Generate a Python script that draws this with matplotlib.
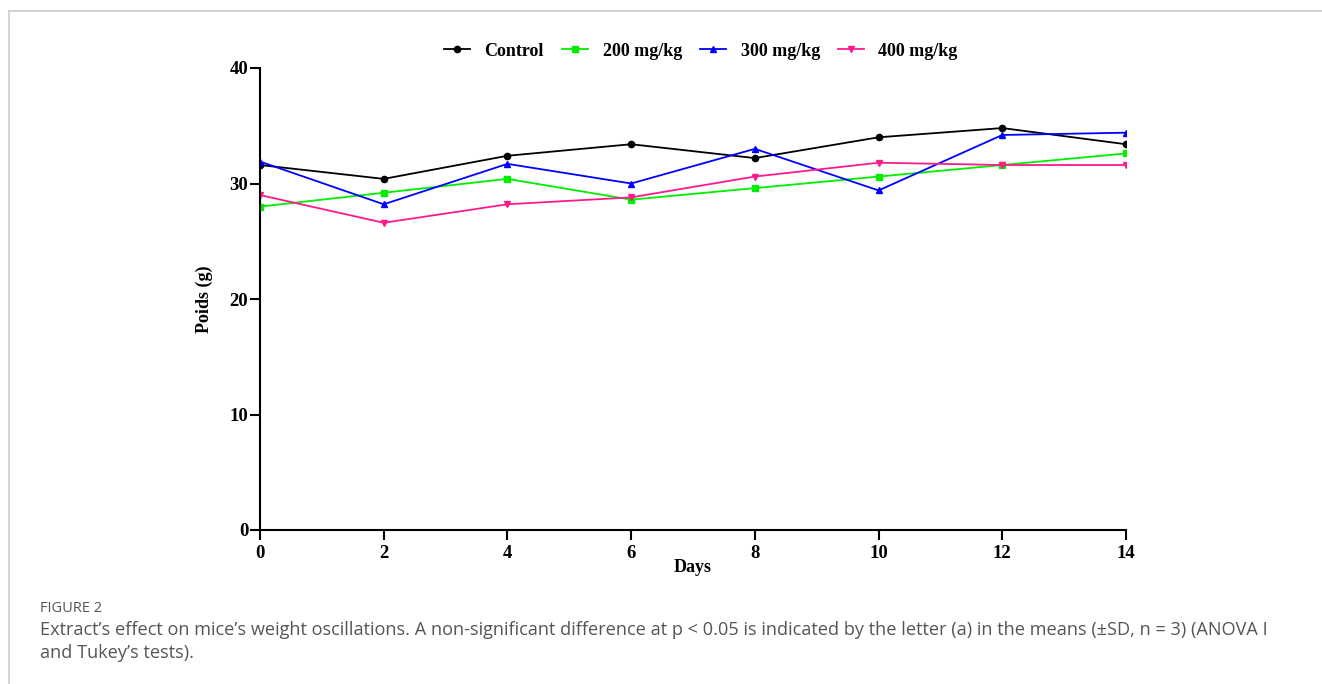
import matplotlib
matplotlib.use("Agg")
from matplotlib import pyplot as plt
from matplotlib.lines import Line2D

days = [0, 2, 4, 6, 8, 10, 12, 14]
control = [31.6, 30.4, 32.4, 33.4, 32.2, 34.0, 34.8, 33.4]
mg200 = [28.0, 29.2, 30.4, 28.6, 29.6, 30.6, 31.6, 32.6]
mg300 = [31.9, 28.2, 31.7, 30.0, 33.0, 29.4, 34.2, 34.4]
mg400 = [29.0, 26.6, 28.2, 28.8, 30.6, 31.8, 31.6, 31.6]
labels = ["Control", "200 mg/kg", "300 mg/kg", "400 mg/kg"]
y_ticks = [0, 10, 20, 30, 40]

serif = ["Liberation Serif", "DejaVu Serif"]

fig = plt.figure(figsize=(13.22, 6.84), dpi=100)
ax = fig.add_axes([260/1322, 1-530/684, (1126-260)/1322, (530-68)/684])

ax.plot(days, control, color="black", marker="o", markersize=4.5, lw=1.3, label=labels[0])
ax.plot(days, mg200, color="#00ee00", marker="s", markersize=4.5, lw=1.3, label=labels[1])
ax.plot(days, mg300, color="#0000ff", marker="^", markersize=5, lw=1.3, label=labels[2])
ax.plot(days, mg400, color="#ff1a8c", marker="v", markersize=5, lw=1.3, label=labels[3])

ax.set_xlim(0, 14)
ax.set_ylim(0, 40)
ax.set_xticks(days)
ax.set_yticks(y_ticks)
for s in ["top", "right"]:
    ax.spines[s].set_visible(False)
for s in ["left", "bottom"]:
    ax.spines[s].set_linewidth(1.5)
ax.tick_params(direction="out", length=7, width=1.5, labelsize=13.5, pad=1.5)
ax.tick_params(axis="x", pad=4)
for t in ax.get_xticklabels() + ax.get_yticklabels():
    t.set_fontfamily(serif)
    t.set_fontweight("bold")

ax.set_xlabel("Days", family=serif, fontweight="bold", fontsize=13, labelpad=-2)
ax.set_ylabel("Poids (g)", family=serif, fontweight="bold", fontsize=13, labelpad=12)
ax.yaxis.set_label_coords(-47/866, 0.5)

leg = ax.legend(loc="center", bbox_to_anchor=(0.509, 1 + 17/462), ncol=4, frameon=False,
                prop={"family": serif, "weight": "bold", "size": 13},
                handlelength=1.45, columnspacing=1.0, handletextpad=0.8, borderaxespad=0)

# figure frame lines (top and left)
fig.add_artist(Line2D([9/1322, 1], [1-11/684, 1-11/684], color="#cccccc", lw=1.2))
fig.add_artist(Line2D([9/1322, 9/1322], [0, 1-11/684], color="#cccccc", lw=1.2))

fig.text(40/1322, 1-609/684, "FIGURE 2", family="Open Sans", fontsize=10.5,
         color="#555555", va="center")
fig.text(40/1322, 1-630/684,
         "Extract\u2019s effect on mice\u2019s weight oscillations. A non-significant difference at p < 0.05 "
         "is indicated by the letter (a) in the means (\u00b1SD, n = 3) (ANOVA I",
         family="Open Sans", fontsize=13.1, color="#555555", va="center")
fig.text(40/1322, 1-653/684, "and Tukey\u2019s tests).", family="Open Sans", fontsize=13.1,
         color="#555555", va="center")

fig.savefig("out.png", dpi=100)
